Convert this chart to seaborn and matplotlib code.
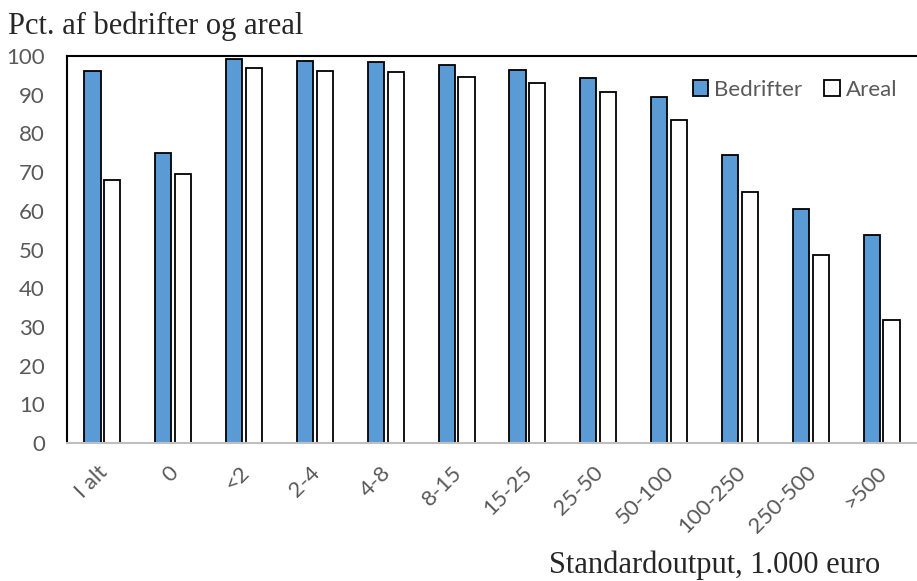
import pandas as pd
import matplotlib.pyplot as plt
import matplotlib.transforms as mtransforms
import seaborn as sns

# Andel af bedrifter og areal efter standardoutput
kategorier = ["I alt", "0", "<2", "2-4", "4-8", "8-15", "15-25", "25-50",
              "50-100", "100-250", "250-500", ">500"]
bedrifter = [96.0, 75.0, 99.2, 98.7, 98.4, 97.7, 96.4, 94.3, 89.4, 74.4, 60.5, 53.7]
areal = [68.0, 69.5, 96.9, 96.1, 95.9, 94.6, 93.0, 90.7, 83.5, 64.9, 48.6, 31.8]

df = pd.DataFrame({
    "kategori": kategorier * 2,
    "pct": bedrifter + areal,
    "serie": ["Bedrifter"] * len(kategorier) + ["Areal"] * len(kategorier),
})

sns.set_style("white")
plt.rcParams["font.family"] = ["Lato", "DejaVu Sans"]

fig = plt.figure(figsize=(9.17, 5.81), dpi=100)
ax = fig.add_axes([67 / 917, 1 - 443 / 581, 850 / 917, 387 / 581])

sns.barplot(data=df, x="kategori", y="pct", hue="serie",
            palette={"Bedrifter": "#5b9bd5", "Areal": "white"},
            saturation=1, width=0.56, gap=0.19,
            edgecolor="black", linewidth=1.3,
            order=kategorier, ax=ax)

ax.set_ylim(0, 100)
ax.set_xlim(-0.5, len(kategorier) - 0.5)
ax.set_yticks(range(0, 101, 10))
ax.tick_params(axis="both", length=0, labelsize=16, colors="#595959")
ax.tick_params(axis="y", pad=16)
ax.tick_params(axis="x", pad=14)
skub = mtransforms.ScaledTranslation(-5 / 100, 0, fig.dpi_scale_trans)
for lab in ax.get_xticklabels():
    lab.set_rotation(45)
    lab.set_ha("right")
    lab.set_rotation_mode("anchor")
    lab.set_transform(lab.get_transform() + skub)

for side in ["left", "top"]:
    ax.spines[side].set_color("black")
    ax.spines[side].set_linewidth(1.5)
ax.spines["bottom"].set_color("#bfbfbf")
ax.spines["bottom"].set_linewidth(1.5)
ax.spines["right"].set_visible(False)

ax.set_xlabel("")
ax.set_ylabel("")

leg = ax.legend(loc="upper right", bbox_to_anchor=(1.0, 0.99), ncol=2,
                frameon=False, fontsize=16, handlelength=0.7, handleheight=0.7,
                handletextpad=0.25, columnspacing=1.0)
for t in leg.get_texts():
    t.set_color("#595959")

fig.text(8 / 917, 1 - 26 / 581, "Pct. af bedrifter og areal",
         family="Liberation Serif", fontsize=22, va="center", ha="left")
fig.text(880 / 917, 1 - 565 / 581, "Standardoutput, 1.000 euro",
         family="Liberation Serif", fontsize=22, va="center", ha="right")

fig.savefig("out.png", dpi=100)
